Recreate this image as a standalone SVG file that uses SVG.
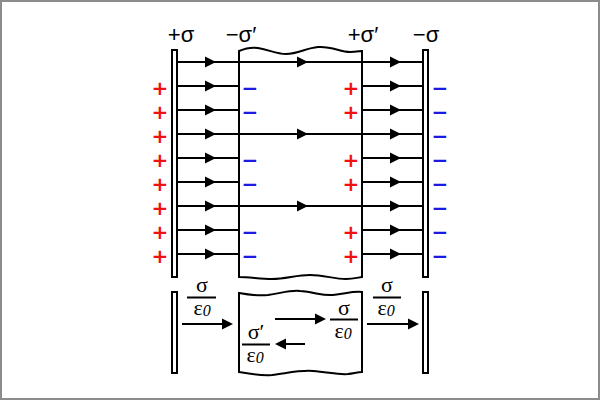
<svg xmlns="http://www.w3.org/2000/svg" xmlns:xlink="http://www.w3.org/1999/xlink" width="600" height="400" viewBox="0 0 600 400">
<style>
.ln{stroke:#000;stroke-width:2;fill:none}
.pl{stroke:#000;stroke-width:2;fill:#fff}
.lab{font-family:"Liberation Sans",Arial,sans-serif;font-size:22px;fill:#000;text-anchor:middle}
.fr{font-family:"Liberation Serif","Times New Roman",serif;font-size:22px;fill:#000;text-anchor:middle}
.sub{font-size:16px;font-style:italic}
.pos{font-family:"DejaVu Sans",sans-serif;font-weight:bold;font-size:20px;fill:#f01010;text-anchor:middle}
.neg{font-family:"DejaVu Sans",sans-serif;font-weight:bold;font-size:20px;fill:#1a1ae0;text-anchor:middle}
</style>
<defs>
<path id="ah" d="M0,0 L-11,-5.5 L-11,5.5 Z" fill="#000"/>
<path id="ahl" d="M0,0 L11,-5.5 L11,5.5 Z" fill="#000"/>
</defs>
<rect x="1" y="1" width="598" height="398" fill="#fff" stroke="#8c8c8c" stroke-width="2"/>

<g id="dielectric">
<path class="pl" d="M239,51 C246,48 252,47 258,48 C270,50 276,54 286,54 C298,54 306,48 318,47 C332,46 340,52 350,52 C356,52 360,51 362,51 L362,277 C356,278 352,279 346,279 C334,279 324,275 310,275 C296,275 286,279 272,279 C260,279 250,277 239,277 Z"/>
</g>

<g id="connectors">
<path class="ln" d="M177,62 H423 M177,134 H423 M177,206 H423"/>
<path class="ln" d="M177,86 H239 M177,110 H239 M177,158 H239 M177,182 H239 M177,230 H239 M177,254 H239"/>
<path class="ln" d="M362,86 H423 M362,110 H423 M362,158 H423 M362,182 H423 M362,230 H423 M362,254 H423"/>
<use xlink:href="#ah" x="216" y="62"/><use xlink:href="#ah" x="216" y="86"/><use xlink:href="#ah" x="216" y="110"/>
<use xlink:href="#ah" x="216" y="134"/><use xlink:href="#ah" x="216" y="158"/><use xlink:href="#ah" x="216" y="182"/>
<use xlink:href="#ah" x="216" y="206"/><use xlink:href="#ah" x="216" y="230"/><use xlink:href="#ah" x="216" y="254"/>
<use xlink:href="#ah" x="308" y="62"/><use xlink:href="#ah" x="308" y="134"/><use xlink:href="#ah" x="308" y="206"/>
<use xlink:href="#ah" x="401" y="62"/><use xlink:href="#ah" x="401" y="86"/><use xlink:href="#ah" x="401" y="110"/>
<use xlink:href="#ah" x="401" y="134"/><use xlink:href="#ah" x="401" y="158"/><use xlink:href="#ah" x="401" y="182"/>
<use xlink:href="#ah" x="401" y="206"/><use xlink:href="#ah" x="401" y="230"/><use xlink:href="#ah" x="401" y="254"/>
</g>

<g id="plate-left"><rect class="pl" x="172" y="50" width="5" height="227"/></g>
<g id="plate-right"><rect class="pl" x="423" y="50" width="5" height="227"/></g>

<g id="charges-left">
<text class="pos"><tspan x="160" y="94.5">+</tspan><tspan x="160" y="118.5">+</tspan><tspan x="160" y="142.5">+</tspan><tspan x="160" y="166.5">+</tspan><tspan x="160" y="190.5">+</tspan><tspan x="160" y="214.5">+</tspan><tspan x="160" y="238.5">+</tspan><tspan x="160" y="262.5">+</tspan></text>
</g>
<g id="charges-dielectric-left">
<text class="neg"><tspan x="250" y="94.5">−</tspan><tspan x="250" y="118.5">−</tspan><tspan x="250" y="166.5">−</tspan><tspan x="250" y="190.5">−</tspan><tspan x="250" y="238.5">−</tspan><tspan x="250" y="262.5">−</tspan></text>
</g>
<g id="charges-dielectric-right">
<text class="pos"><tspan x="351" y="94.5">+</tspan><tspan x="351" y="118.5">+</tspan><tspan x="351" y="166.5">+</tspan><tspan x="351" y="190.5">+</tspan><tspan x="351" y="238.5">+</tspan><tspan x="351" y="262.5">+</tspan></text>
</g>
<g id="charges-right">
<text class="neg"><tspan x="440" y="94.5">−</tspan><tspan x="440" y="118.5">−</tspan><tspan x="440" y="142.5">−</tspan><tspan x="440" y="166.5">−</tspan><tspan x="440" y="190.5">−</tspan><tspan x="440" y="214.5">−</tspan><tspan x="440" y="238.5">−</tspan><tspan x="440" y="262.5">−</tspan></text>
</g>

<g id="labels">
<text class="lab" x="181" y="42">+σ</text>
<text class="lab" x="241" y="42">−σ′</text>
<text class="lab" x="363" y="42">+σ′</text>
<text class="lab" x="426" y="42">−σ</text>
</g>

<g id="bottom-plate-left"><rect class="pl" x="172" y="292" width="5" height="81"/></g>
<g id="bottom-plate-right"><rect class="pl" x="423" y="292" width="5" height="81"/></g>
<g id="bottom-dielectric">
<path class="pl" d="M239,293 C250,295 258,296 268,295 C282,293 290,290 300,291 C315,292 322,296 333,295 C345,294 352,291 362,292 L362,372 C358,372 355,373 348,374 C338,375 328,372 313,371 C300,370 288,373 272,375 C260,376 250,374 239,372 Z"/>
</g>

<g id="bottom-arrows">
<path class="ln" d="M182,324 H222 M367,324 H408 M275,319 H315 M305,344 H285"/>
<use xlink:href="#ah" x="233" y="324"/>
<use xlink:href="#ah" x="419" y="324"/>
<use xlink:href="#ah" x="326" y="319"/>
<use xlink:href="#ahl" x="275" y="344"/>
</g>

<g id="fraction-left">
<path class="ln" d="M187,297.5 H216"/>
<text class="fr"><tspan x="202" y="292">σ</tspan><tspan x="202" y="315">ε</tspan><tspan class="sub" dy="1">0</tspan></text>
</g>
<g id="fraction-mid">
<path class="ln" d="M330,319.5 H358"/>
<text class="fr"><tspan x="344" y="315">σ</tspan><tspan x="343" y="338">ε</tspan><tspan class="sub" dy="1">0</tspan></text>
</g>
<g id="fraction-prime">
<path class="ln" d="M242,344.5 H270"/>
<text class="fr"><tspan x="256" y="339">σ′</tspan><tspan x="255" y="362">ε</tspan><tspan class="sub" dy="1">0</tspan></text>
</g>
<g id="fraction-right">
<path class="ln" d="M373,297.5 H401"/>
<text class="fr"><tspan x="387" y="292">σ</tspan><tspan x="386" y="315">ε</tspan><tspan class="sub" dy="1">0</tspan></text>
</g>
</svg>
